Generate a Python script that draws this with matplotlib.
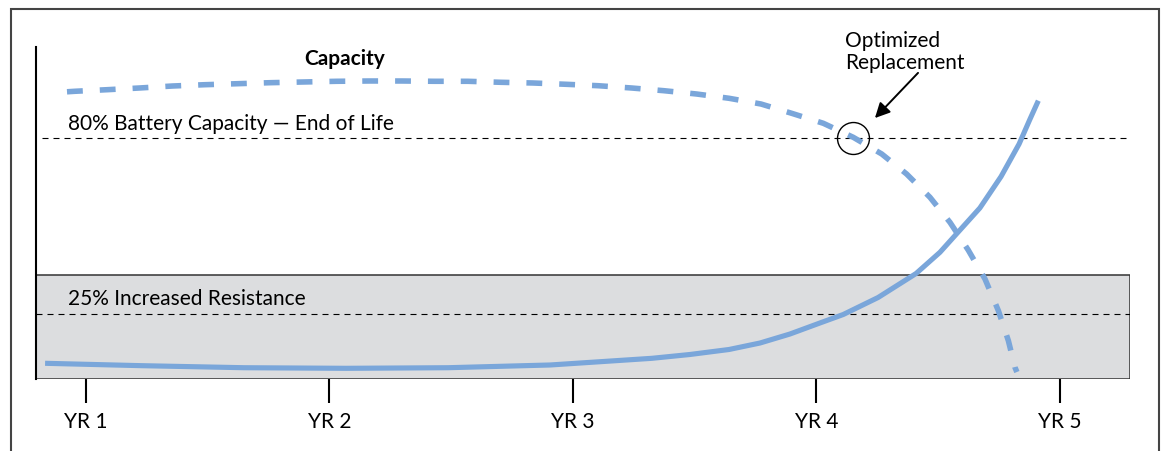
import matplotlib
matplotlib.use("Agg")
import matplotlib.pyplot as plt
from matplotlib.patches import Rectangle

plt.rcParams['font.family'] = ['Lato', 'DejaVu Sans']

# ---- data (x in years, y in relative units 0-100) ----
years = [1, 2, 3, 4, 5]
year_labels = ["YR 1", "YR 2", "YR 3", "YR 4", "YR 5"]

cap_x = [0.922, 0.954, 1.087, 1.219, 1.355, 1.487, 1.625, 1.757, 1.892, 2.028,
         2.162, 2.298, 2.430, 2.568, 2.703, 2.835, 2.971, 3.103, 3.241, 3.373,
         3.508, 3.641, 3.772, 3.898, 4.028, 4.151, 4.268, 4.370, 4.466, 4.548,
         4.623, 4.692, 4.747, 4.788, 4.815, 4.823]
cap_y = [86.51, 86.66, 87.14, 87.65, 88.25, 88.64, 88.95, 89.25, 89.46, 89.67,
         89.76, 89.76, 89.67, 89.67, 89.37, 89.16, 88.77, 88.34, 87.65, 86.84,
         85.84, 84.55, 82.83, 80.03, 77.02, 72.80, 67.77, 61.75, 54.73, 47.20,
         38.86, 30.12, 20.57, 11.54, 3.52, 2.10]

res_x = [0.832, 1.230, 1.649, 2.068, 2.487, 2.906, 3.324, 3.480, 3.641, 3.768,
         3.891, 4.014, 4.110, 4.253, 4.409, 4.507, 4.581, 4.671, 4.758, 4.832,
         4.877, 4.911]
res_y = [4.73, 4.01, 3.40, 3.22, 3.40, 4.22, 6.23, 7.38, 8.89, 10.84,
         13.55, 16.87, 19.43, 24.55, 31.78, 38.16, 44.19, 51.51, 60.99, 70.78,
         78.31, 83.83]

eol_level = 72.6          # 80% battery capacity line
res_level = 19.6          # 25% increased resistance line
res_zone_top = 31.3       # top of the grey zone
replace_pt = (4.150, 72.6)

blue = '#7aa6da'
fs = 15

fig = plt.figure(figsize=(11.63, 4.52), dpi=100)

# outer frame
fig.patches.append(Rectangle((11 / 1163, -0.1), 1148 / 1163, (452 - 9.5) / 452 + 0.1,
                             transform=fig.transFigure, fill=False,
                             edgecolor='#444444', lw=1.5, zorder=0))

ax = fig.add_axes([36 / 1163, 72 / 452, 1094 / 1163, 332 / 452])
ax.set_xlim(0.7947, 5.2875)
ax.set_ylim(0, 100)
ax.patch.set_alpha(0)

for s in ['top', 'right', 'bottom']:
    ax.spines[s].set_visible(False)
ax.spines['left'].set_linewidth(1.5)
ax.spines['left'].set_color('black')
ax.spines['left'].set_zorder(6)

ax.axhspan(0, res_zone_top, facecolor='#dcdddf', edgecolor='#333333', lw=1.1, zorder=1)

ax.set_xticks(years)
ax.set_xticklabels(year_labels, fontsize=fs)
ax.tick_params(axis='x', direction='out', length=17, width=1.5, pad=6, color='black')
ax.set_yticks([])

ax.hlines(eol_level, 0.819, 5.2875, colors='black', lw=0.8,
          linestyles=(0, (5.4, 4.5)), zorder=3)
ax.axhline(res_level, color='black', lw=0.8, linestyle=(0, (5.4, 4.5)), zorder=3)

ax.plot(cap_x, cap_y, color=blue, lw=4, linestyle=(0, (2.85, 3.06)),
        dash_capstyle='butt', dash_joinstyle='round', zorder=4)
ax.plot(res_x, res_y, color=blue, lw=3.7, solid_capstyle='butt',
        solid_joinstyle='round', zorder=4)

ax.plot([replace_pt[0]], [replace_pt[1]], marker='o', ms=23, mfc='none',
        mec='black', mew=1.0, zorder=5, clip_on=False)

ax.text(0.926, 75.3, "80% Battery Capacity \u2014 End of Life", fontsize=fs,
        va='baseline', ha='left', zorder=5)
ax.text(0.926, 22.6, "25% Increased Resistance", fontsize=fs,
        va='baseline', ha='left', zorder=5)
ax.text(1.895, 94.9, "Capacity", fontsize=fs, fontweight='bold',
        va='baseline', ha='left', zorder=5, clip_on=False)
ax.text(4.117, 105.1, "Optimized\nReplacement", fontsize=fs, va='top', ha='left',
        linespacing=1.1, zorder=5, clip_on=False)
ax.annotate('', xy=(4.240, 78.6), xytext=(4.417, 92.2),
            arrowprops=dict(arrowstyle='-|>,head_length=0.5,head_width=0.25',
                            color='black', lw=1.4, mutation_scale=18,
                            shrinkA=0, shrinkB=0),
            annotation_clip=False, zorder=5)

fig.savefig('out.png', dpi=100)
